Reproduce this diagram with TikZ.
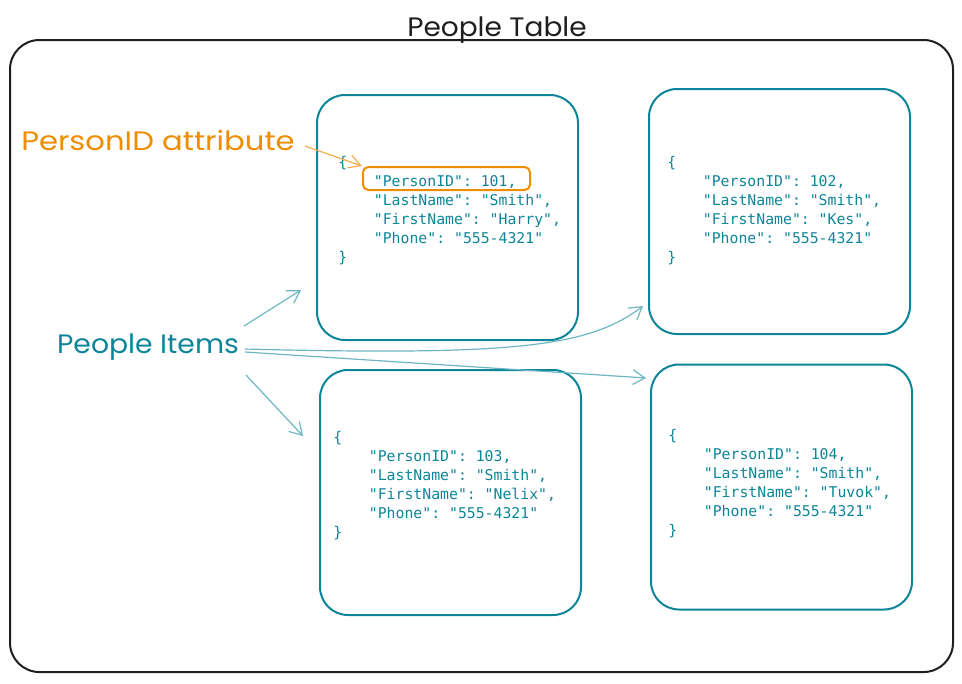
\documentclass[tikz,border=0pt]{standalone}
\usepackage{fontspec}
\setmainfont{Lato}
\newfontfamily\handfont{Poppins}
\setmonofont{DejaVu Sans Mono}
\usetikzlibrary{arrows.meta}
\definecolor{xteal}{HTML}{0C8599}
\definecolor{xorange}{HTML}{F08C00}
\definecolor{xblack}{HTML}{1E1E1E}
\newcommand{\ind}{\phantom{xxxx}}
\begin{document}
\begin{tikzpicture}[x=0.75pt,y=-0.75pt,
  frame/.style={draw=xblack,line width=1.5pt,rounded corners=22pt,minimum width=707.25pt,minimum height=474pt,inner sep=0pt},
  itembox/.style={draw=xteal,line width=1.5pt,rounded corners=21pt,minimum width=195.75pt,minimum height=183.75pt,inner sep=0pt},
  code/.style={anchor=north west,inner sep=0pt,align=left,text=xteal,font=\ttfamily\fontsize{11.1}{14.25}\selectfont},
  hand/.style={inner sep=0pt,font=\handfont\fontsize{20}{23}\selectfont},
  linkarrow/.style={draw=xteal!60,line width=0.9pt,-{Straight Barb[length=9pt,width=11pt]}},
  keyarrow/.style={draw=xorange!70,line width=0.9pt,-{Straight Barb[length=9pt,width=10pt]}}
]
\useasboundingbox (0,0) rectangle (962,683);
\node[frame] (table) at (481.5,356) {};
\node[hand,text=xblack] (title) at (497,30) {\scalebox{1.05}[1]{People Table}};

\node[itembox] (box1) at (447.5,217.5) {};
\node[itembox] (box2) at (779.5,211.5) {};
\node[itembox] (box3) at (450.5,492.5) {};
\node[itembox] (box4) at (781.5,487) {};

\node[code] (code1) at (338,156) {\{\\\ind"PersonID": 101,\\\ind"LastName": "Smith",\\\ind"FirstName": "Harry",\\\ind"Phone": "555-4321"\\\}};
\node[code] (code2) at (667,156) {\{\\\ind"PersonID": 102,\\\ind"LastName": "Smith",\\\ind"FirstName": "Kes",\\\ind"Phone": "555-4321"\\\}};
\node[code] (code3) at (333,431) {\{\\\ind"PersonID": 103,\\\ind"LastName": "Smith",\\\ind"FirstName": "Nelix",\\\ind"Phone": "555-4321"\\\}};
\node[code] (code4) at (668,429) {\{\\\ind"PersonID": 104,\\\ind"LastName": "Smith",\\\ind"FirstName": "Tuvok",\\\ind"Phone": "555-4321"\\\}};

\node[draw=xorange,line width=1.5pt,rounded corners=4pt,minimum width=125.25pt,minimum height=17.25pt,inner sep=0pt] (hl) at (446.5,178.5) {};

\node[hand,text=xorange] (attr) at (158,140) {\scalebox{1.15}[1]{PersonID attribute}};
\node[hand,text=xteal] (items) at (148,347) {\scalebox{1.06}[1]{People Items}};

\coordinate (attrEnd) at (305,146);
\draw[keyarrow] (attrEnd) -- (hl.north west);

\coordinate (s1) at (244,326);
\coordinate (e1) at (301,290);
\coordinate (s2) at (245,349);
\coordinate (e2) at (643,306);
\coordinate (s3) at (245,352);
\coordinate (e3) at (646,378);
\coordinate (s4) at (246,375);
\coordinate (e4) at (303,436);
\draw[linkarrow] (s1) -- (e1);
\draw[linkarrow] (s2) .. controls (520,356) and (590,346) .. (e2);
\draw[linkarrow] (s3) -- (e3);
\draw[linkarrow] (s4) -- (e4);
\end{tikzpicture}
\end{document}
